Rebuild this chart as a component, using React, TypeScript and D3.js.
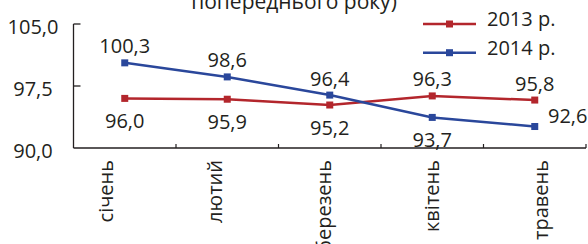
import React from "react";
import * as d3 from "d3";

const months = ["січень", "лютий", "березень", "квітень", "травень"];
const series2013 = [96.0, 95.9, 95.2, 96.3, 95.8];
const series2014 = [100.3, 98.6, 96.4, 93.7, 92.6];
const seriesNames = ["2013 р.", "2014 р."];
const yTicks = [90, 97.5, 105];
const titleText = "попереднього року)";

// label placement per point (styling config, not data)
const place2013 = ["below", "below", "below", "above", "above"];
const place2014 = ["above", "above", "above", "below", "right"];

const W = 588;
const H = 244;
const RED = "#b3262c";
const BLUE = "#2a479b";
const AXIS = "#231f20";
const FONT = "'Open Sans', sans-serif";

const locale = d3.formatLocale({ decimal: ",", thousands: " ", grouping: [3], currency: ["", ""] });
const fmt = locale.format(".1f");

export default function App() {
  const x = d3.scaleBand<string>().domain(months).range([73.5, 586]);
  const bw = x.bandwidth();
  const cx = (m: string) => (x(m) as number) + bw / 2;
  const y = d3.scaleLinear().domain([90, 105]).range([148, 24]);
  const labelX = d3.scalePoint<string>().domain(months).range([113, 548]);

  const line = d3
    .line<number>()
    .x((_, i) => cx(months[i]))
    .y((d) => y(d));

  const series = [
    { name: seriesNames[0], values: series2013, color: RED, place: place2013 },
    { name: seriesNames[1], values: series2014, color: BLUE, place: place2014 },
  ];

  const legendY = d3.scalePoint<string>().domain(seriesNames).range([24, 52.7]);
  const ms = 7;

  return (
    <svg width={W} height={H} style={{ position: "absolute", left: 0, top: 0 }} fontFamily={FONT}>
      <style>{`body{margin:0}`}</style>
      <rect width={W} height={H} fill="#fff" />
      <text x={294} y={9} textAnchor="middle" fontSize={21} fill={AXIS}>
        {titleText}
      </text>

      {/* y axis */}
      <line x1={73.5} x2={73.5} y1={y(105)} y2={y(90)} stroke={AXIS} strokeWidth={1.3} />
      {yTicks.map((t) => (
        <g key={t}>
          {t !== 90 && <line x1={73.5} x2={80.5} y1={y(t)} y2={y(t)} stroke={AXIS} strokeWidth={1.3} />}
          <text x={33} y={y(t) + 9.5} textAnchor="middle" fontSize={20} fill={AXIS}>
            {fmt(t)}
          </text>
        </g>
      ))}

      {/* x axis */}
      <line x1={73.5} x2={586} y1={y(90)} y2={y(90)} stroke={AXIS} strokeWidth={1.3} />
      {months.map((m) => (
        <line
          key={m}
          x1={(x(m) as number) + bw}
          x2={(x(m) as number) + bw}
          y1={y(90)}
          y2={y(90) - 4}
          stroke={AXIS}
          strokeWidth={1.2}
        />
      ))}
      {months.map((m) => (
        <text
          key={m}
          transform={`translate(${labelX(m)},160) rotate(-90)`}
          textAnchor="end"
          fontSize={20}
          fill={AXIS}
        >
          {m}
        </text>
      ))}

      {/* series */}
      {series.map((s) => (
        <g key={s.name}>
          <path d={line(s.values) as string} fill="none" stroke={s.color} strokeWidth={2.5} />
          {s.values.map((v, i) => (
            <rect
              key={i}
              x={cx(months[i]) - ms / 2}
              y={y(v) - ms / 2}
              width={ms}
              height={ms}
              fill={s.color}
            />
          ))}
          {s.values.map((v, i) => {
            const p = s.place[i];
            const lx = p === "right" ? cx(months[i]) + 33 : cx(months[i]);
            const ly = p === "above" ? y(v) - 9.5 : p === "below" ? y(v) + 30 : y(v) - 4;
            return (
              <text key={"l" + i} x={lx} y={ly} textAnchor="middle" fontSize={20} fill={AXIS}>
                {fmt(v)}
              </text>
            );
          })}
        </g>
      ))}

      {/* legend */}
      {series.map((s) => {
        const ly = legendY(s.name) as number;
        return (
          <g key={"lg" + s.name}>
            <line x1={423} x2={476} y1={ly} y2={ly} stroke={s.color} strokeWidth={2.5} />
            <rect x={449.5 - ms / 2} y={ly - ms / 2} width={ms} height={ms} fill={s.color} />
            <text x={487} y={ly + 2} fontSize={20} fill={AXIS}>
              {s.name}
            </text>
          </g>
        );
      })}
    </svg>
  );
}
